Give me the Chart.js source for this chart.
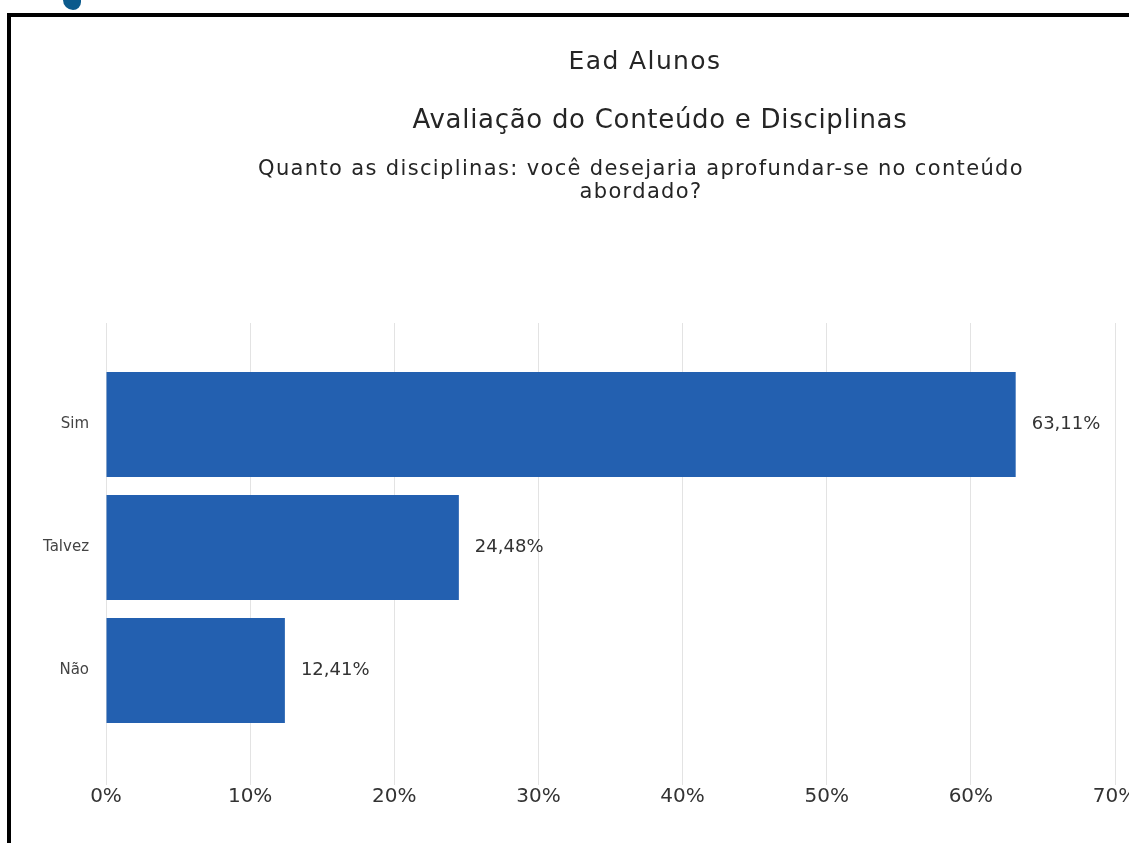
<!DOCTYPE html>
<html>
<head>
<meta charset="utf-8">
<script src="https://cdn.jsdelivr.net/npm/chart.js@4"></script>
<style>
  body { margin: 0; background: #fff; overflow: hidden; width: 1129px; height: 843px; position: relative; font-family: "DejaVu Sans", sans-serif; color: #252525; }
  #wrap { position: absolute; left: 0; top: 0; width: 1160px; height: 843px; }
  #frame { position: absolute; left: 7px; top: 13px; width: 1200px; height: 900px; border-left: 4px solid #000; border-top: 4px solid #000; }
  #logo { position: absolute; left: 63px; top: 0; width: 18px; height: 10px; background: #0b5a8c; border-radius: 0 0 8px 10px; }
  .t { position: absolute; left: 245px; width: 800px; text-align: center; white-space: nowrap; }
  #t1 { top: 46px; font-size: 25px; letter-spacing: 1.4px; }
  #t2 { top: 104px; font-size: 26px; left: 260px; letter-spacing: 0.7px; }
  #t3 { top: 157px; left: 241px; font-size: 21px; line-height: 23px; letter-spacing: 1.35px; }
</style>
</head>
<body>
<div id="wrap"><canvas id="bars"></canvas></div>
<div id="frame"></div>
<div id="logo"></div>
<div class="t" id="t1">Ead Alunos</div>
<div class="t" id="t2">Avaliação do Conteúdo e Disciplinas</div>
<div class="t" id="t3">Quanto as disciplinas: você desejaria aprofundar-se no conteúdo<br>abordado?</div>
<script>
const categories = ['Sim', 'Talvez', 'Não'];
const percentages = [63.11, 24.48, 12.41];
const xTicks = [0, 10, 20, 30, 40, 50, 60, 70];

function fmtPct(v) {
    return v.toFixed(2).replace('.', ',') + '%';
}

// value labels to the right of each bar
const barLabels = {
    id: 'barLabels',
    afterDatasetsDraw(chart) {
        const ctx = chart.ctx;
        const meta = chart.getDatasetMeta(0);
        ctx.save();
        ctx.font = '18px "DejaVu Sans"';
        ctx.fillStyle = '#333';
        ctx.textAlign = 'left';
        ctx.textBaseline = 'middle';
        meta.data.forEach((bar, i) => {
            ctx.fillText(fmtPct(percentages[i]), bar.x + 16, bar.y);
        });
        ctx.restore();
    }
};

const gridColor = '#e3e3e3';

const config = {
    type: 'bar',
    data: {
        labels: categories,
        datasets: [{
            data: percentages,
            backgroundColor: '#2360b0',
            categoryPercentage: 1,
            barPercentage: 0.854
        }]
    },
    options: {
        indexAxis: 'y',
        responsive: true,
        maintainAspectRatio: false,
        animation: false,
        layout: { padding: { top: 323, bottom: 34, left: 0, right: 45 } },
        plugins: { legend: { display: false }, tooltip: { enabled: false } },
        scales: {
            x: {
                min: 0,
                max: 70,
                afterBuildTicks: (scale) => { scale.ticks = xTicks.map(v => ({ value: v })); },
                grid: { color: gridColor, tickLength: 53, tickColor: gridColor },
                border: { display: false },
                ticks: {
                    padding: 0,
                    color: '#333',
                    font: { family: 'DejaVu Sans', size: 20 },
                    callback: (v) => v + '%'
                }
            },
            xTop: {
                position: 'top',
                min: 0,
                max: 70,
                afterBuildTicks: (scale) => { scale.ticks = xTicks.map(v => ({ value: v })); },
                grid: { drawOnChartArea: false, tickLength: 40, tickColor: gridColor },
                border: { display: false },
                ticks: { display: false }
            },
            y: {
                grid: { display: false, drawTicks: false },
                border: { display: false },
                afterFit: (scale) => { scale.width = 106; },
                ticks: {
                    padding: 17,
                    color: '#444',
                    font: { family: 'DejaVu Sans', size: 15 }
                }
            }
        }
    },
    plugins: [barLabels]
};

const myChart = new Chart(document.getElementById('bars'), config);
</script>
</body>
</html>
